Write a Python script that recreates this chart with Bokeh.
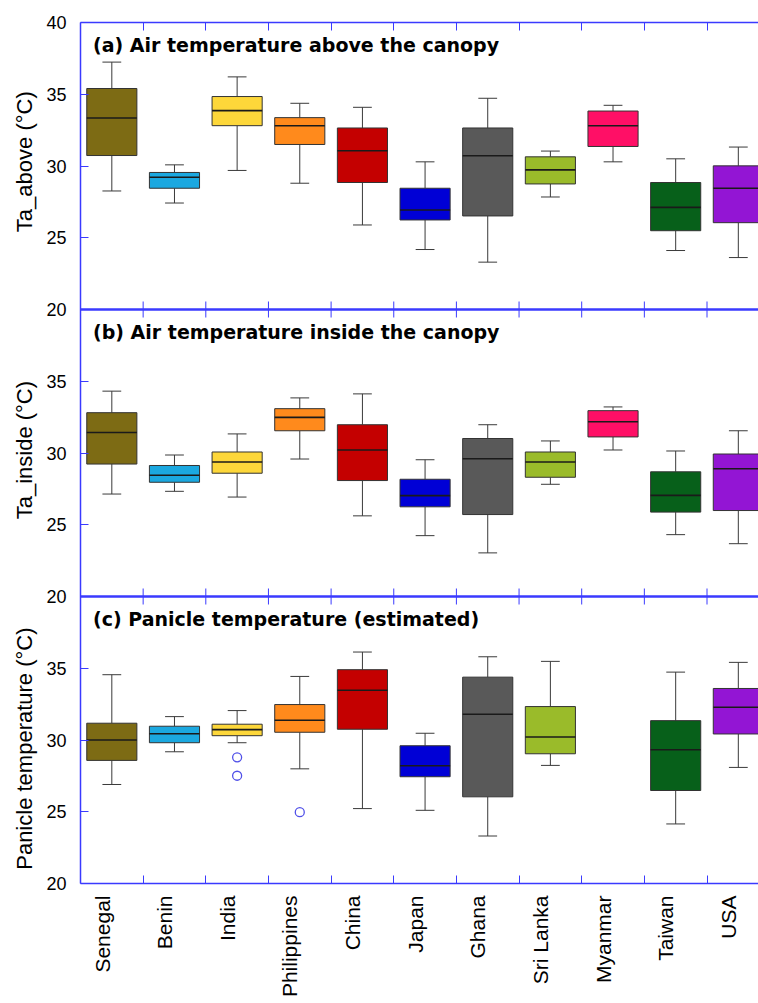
import math
from bokeh.plotting import figure
from bokeh.layouts import row
from bokeh.models import FixedTicker, LinearAxis, Range1d, Label, Span
from bokeh.embed import file_html
from bokeh.resources import INLINE
from bokeh.core.properties import value

countries = ["Senegal", "Benin", "India", "Philippines", "China", "Japan",
             "Ghana", "Sri Lanka", "Myanmar", "Taiwan", "USA"]
colors = ["#7d6b14", "#1ba8e0", "#fdd73a", "#ff8a1c", "#c40000", "#0000d6",
          "#595959", "#9abb2a", "#ff0f66", "#07601a", "#9315d4"]

# (a) Air temperature above the canopy
a_low = [28.26, 27.42, 29.69, 28.80, 25.89, 24.18, 23.30, 27.84, 30.29, 24.11, 23.62]
a_q1 = [30.73, 28.45, 32.81, 31.50, 28.85, 26.24, 26.52, 28.75, 31.36, 25.49, 26.05]
a_med = [33.35, 29.22, 33.86, 32.81, 31.06, 26.93, 30.71, 29.73, 32.81, 27.12, 28.45]
a_q3 = [35.40, 29.55, 34.84, 33.37, 32.65, 28.45, 32.65, 30.64, 33.83, 28.85, 30.01]
a_high = [37.24, 30.08, 36.21, 34.37, 34.09, 30.29, 34.72, 31.04, 34.23, 30.50, 31.32]

# (b) Air temperature inside the canopy
b_low = [27.14, 27.33, 26.93, 29.58, 25.62, 24.24, 23.04, 27.82, 30.21, 24.31, 23.68]
b_q1 = [29.23, 27.96, 28.59, 31.55, 28.08, 26.25, 25.71, 28.31, 31.12, 25.88, 25.99]
b_med = [31.43, 28.45, 29.37, 32.48, 30.21, 27.03, 29.60, 29.37, 32.18, 27.05, 28.90]
b_q3 = [32.81, 29.13, 30.07, 33.09, 31.97, 28.17, 31.01, 30.07, 32.95, 28.69, 29.93]
b_high = [34.31, 29.86, 31.33, 33.84, 34.12, 29.53, 31.97, 30.84, 33.21, 30.14, 31.55]

# (c) Panicle temperature (estimated) -- no data for Myanmar
c_low = [26.90, 29.18, 29.81, 27.99, 25.22, 25.10, 23.31, 28.23, None, 24.15, 28.09]
c_q1 = [28.58, 29.81, 30.30, 30.54, 30.75, 27.44, 26.04, 29.04, None, 26.48, 30.42]
c_med = [30.00, 30.44, 30.72, 31.38, 33.47, 28.21, 31.79, 30.21, None, 29.32, 32.28]
c_q3 = [31.17, 30.96, 31.10, 32.47, 34.90, 29.60, 34.38, 32.33, None, 31.35, 33.59]
c_high = [34.55, 31.63, 32.05, 34.43, 36.13, 30.47, 35.80, 35.48, None, 34.73, 35.41]
c_out_country = ["India", "India", "Philippines"]
c_out_value = [28.79, 27.51, 24.97]

titles = ["(a) Air temperature above the canopy",
          "(b) Air temperature inside the canopy",
          "(c) Panicle temperature (estimated)"]
ylabels = ["Ta_above (°C)", "Ta_inside (°C)", "Panicle temperature (°C)"]

# each panel shows 20-40 °C; the three panels are stacked in one frame.
# main range (panel c) spans three panel heights: 20 .. 80
y_ticks = [20, 25, 30, 35, 40, 45, 50, 55, 60, 65, 70, 75, 80]
y_tick_labels = ["20", "25", "30", "35", "20", "25", "30", "35",
                 "20", "25", "30", "35", "40"]
panel_boundaries = [40, 60]
panel_names = ["a", "b", "c"]

BLUE = "#3a3aff"
FONT = "Liberation Sans"
X_END = 10.822
BOX_W = 0.8
CAP_W = 0.3
LABEL_SHIFT = 0.15625
TOP_B, BOT_B, H = 22, 120, 1003
LABEL_COL_W = 40


def make_ranges():
    return {"a": Range1d(-20, 40), "b": Range1d(0, 60), "c": Range1d(20, 80)}


p = figure(width=758 - LABEL_COL_W, height=H, x_range=Range1d(0, X_END),
           y_range=Range1d(20, 80), output_backend="svg",
           toolbar_location=None, x_axis_location=None, y_axis_location=None,
           outline_line_color=None, min_border_left=80 - LABEL_COL_W,
           min_border_right=0, min_border_top=TOP_B, min_border_bottom=BOT_B)
p.xgrid.visible = False
p.ygrid.visible = False
p.extra_y_ranges = make_ranges()

# narrow column that carries the three rotated y-axis titles
q = figure(width=LABEL_COL_W, height=H, x_range=Range1d(0, LABEL_COL_W),
           y_range=Range1d(20, 80), output_backend="svg",
           toolbar_location=None, x_axis_location=None, y_axis_location=None,
           outline_line_color=None, min_border_left=0, min_border_right=0,
           min_border_top=TOP_B, min_border_bottom=BOT_B)
q.xgrid.visible = False
q.ygrid.visible = False
q.extra_y_ranges = make_ranges()
ylabel_x = 24
ylabel_y = [30.3, 30.2, 29.4]
for rn, txt, yy in zip(panel_names, ylabels, ylabel_y):
    q.text(x=[ylabel_x], y=[yy], text=[txt], angle=math.pi / 2,
           text_align="center", text_baseline="alphabetic",
           text_font=value(FONT), text_font_size="22px", text_color="black",
           y_range_name=rn)


def style_axis(ax):
    ax.axis_line_color = BLUE
    ax.axis_line_width = 1.5
    ax.major_tick_line_color = BLUE
    ax.minor_tick_line_color = BLUE
    ax.major_tick_in = 8
    ax.major_tick_out = 0
    ax.minor_tick_in = 8
    ax.minor_tick_out = 0
    ax.major_label_text_color = "black"


def draw_panel(rn, low, q1, med, q3, high, title):
    idx = [i for i in range(len(countries)) if med[i] is not None]
    xs = [i + 0.5 for i in idx]
    lo = [low[i] for i in idx]
    qa = [q1[i] for i in idx]
    md = [med[i] for i in idx]
    qb = [q3[i] for i in idx]
    hi = [high[i] for i in idx]
    cl = [colors[i] for i in idx]
    wc = "#3a3a3a"
    p.segment(x0=xs, y0=lo, x1=xs, y1=qa, line_color=wc, line_width=1, y_range_name=rn)
    p.segment(x0=xs, y0=qb, x1=xs, y1=hi, line_color=wc, line_width=1, y_range_name=rn)
    p.segment(x0=[x - CAP_W / 2 for x in xs], y0=lo, x1=[x + CAP_W / 2 for x in xs],
              y1=lo, line_color=wc, line_width=1, y_range_name=rn)
    p.segment(x0=[x - CAP_W / 2 for x in xs], y0=hi, x1=[x + CAP_W / 2 for x in xs],
              y1=hi, line_color=wc, line_width=1, y_range_name=rn)
    p.vbar(x=xs, width=BOX_W, bottom=qa, top=qb, fill_color=cl,
           line_color="#333333", line_width=1, y_range_name=rn)
    p.segment(x0=[x - BOX_W / 2 for x in xs], y0=md, x1=[x + BOX_W / 2 for x in xs],
              y1=md, line_color="#1a1a1a", line_width=1.6, y_range_name=rn)
    p.add_layout(Label(x=0.2, y=38.45, y_range_name=rn, text=title,
                       text_font="DejaVu Sans", text_font_size="19px",
                       text_font_style="bold", text_baseline="middle",
                       text_color="black"))


draw_panel("a", a_low, a_q1, a_med, a_q3, a_high, titles[0])
draw_panel("b", b_low, b_q1, b_med, b_q3, b_high, titles[1])
draw_panel("c", c_low, c_q1, c_med, c_q3, c_high, titles[2])

ox = [countries.index(c) + 0.5 for c in c_out_country]
p.scatter(x=ox, y=c_out_value, marker="circle", size=9, fill_color=None,
          line_color="#5050e8", line_width=1.3, y_range_name="c")

# panel dividers and their crossing ticks
bounds = list(range(1, len(countries)))
for yb in panel_boundaries:
    p.add_layout(Span(location=yb, dimension="width", line_color=BLUE, line_width=2.5))
    p.scatter(x=bounds, y=[yb] * len(bounds), marker="dash", size=16,
              angle=math.pi / 2, line_color=BLUE, line_width=1)

# left axis
left = LinearAxis(ticker=FixedTicker(ticks=y_ticks, minor_ticks=[]))
style_axis(left)
left.major_label_overrides = {t: s for t, s in zip(y_ticks, y_tick_labels)}
left.major_label_text_font = FONT
left.major_label_text_font_size = "18px"
left.major_label_standoff = 14
p.add_layout(left, "left")

# top axis: ticks between categories
top = LinearAxis(ticker=FixedTicker(ticks=[], minor_ticks=bounds))
style_axis(top)
top.major_label_standoff = 0
p.add_layout(top, "above")

# bottom axis: category labels, ticks between categories
lab_ticks = [i + 0.5 - LABEL_SHIFT for i in range(len(countries))]
bot = LinearAxis(ticker=FixedTicker(ticks=lab_ticks, minor_ticks=bounds))
style_axis(bot)
bot.major_tick_line_color = None
bot.major_label_overrides = {t: c for t, c in zip(lab_ticks, countries)}
bot.major_label_orientation = math.pi / 2
bot.major_label_text_font = FONT
bot.major_label_text_font_size = "21px"
bot.major_label_standoff = 12
p.add_layout(bot, "below")

layout = row(q, p, spacing=0)
open("out.html", "w").write(file_html(layout, INLINE))
